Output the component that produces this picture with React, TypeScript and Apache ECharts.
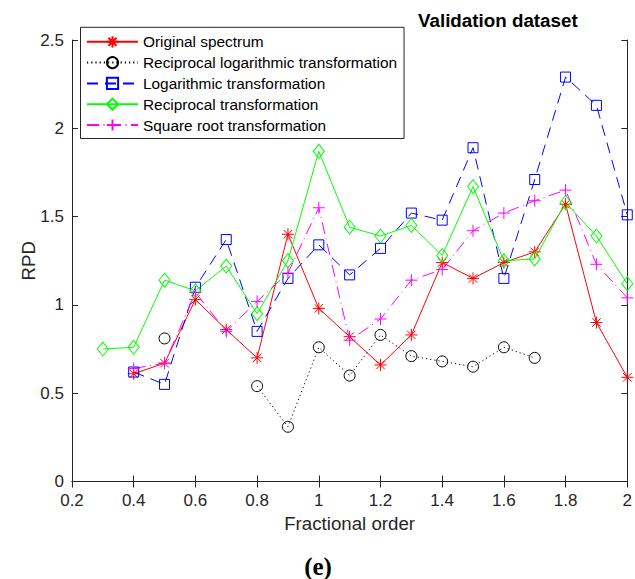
import React, { useEffect, useRef } from "react";
import * as echarts from "echarts";

// Fractional derivative orders (x positions)
const orders = [0.3, 0.4, 0.5, 0.6, 0.7, 0.8, 0.9, 1.0, 1.1, 1.2, 1.3, 1.4, 1.5, 1.6, 1.7, 1.8, 1.9, 2.0];

// RPD per pretreatment, validation dataset (null = not evaluated)
const originalSpectrum = [null, 0.61, 0.67, 1.03, 0.86, 0.70, 1.40, 0.98, 0.82, 0.66, 0.83, 1.24, 1.15, 1.24, 1.30, 1.57, 0.90, 0.59];
const reciprocalLog = [null, null, 0.81, null, null, 0.54, 0.31, 0.76, 0.60, 0.83, 0.71, 0.68, 0.65, 0.76, 0.70, null, null, null];
const logarithmic = [null, 0.62, 0.55, 1.10, 1.37, 0.85, 1.15, 1.34, 1.17, 1.32, 1.52, 1.48, 1.89, 1.15, 1.71, 2.29, 2.13, 1.51];
const reciprocal = [0.75, 0.76, 1.14, 1.08, 1.22, 0.95, 1.25, 1.87, 1.44, 1.39, 1.45, 1.28, 1.67, 1.25, 1.26, 1.58, 1.39, 1.12];
const squareRoot = [null, 0.64, 0.67, 1.07, 0.85, 1.02, 1.18, 1.55, 0.80, 0.92, 1.14, 1.20, 1.42, 1.52, 1.59, 1.65, 1.23, 1.04];

const seriesNames = [
  "Original spectrum",
  "Reciprocal logarithmic transformation",
  "Logarithmic transformation",
  "Reciprocal transformation",
  "Square root transformation",
];

const xTicks = { min: 0.2, max: 2, interval: 0.2 };
const yTicks = { min: 0, max: 2.5, interval: 0.5 };

const FONT = "'Liberation Sans', Arial, Helvetica, sans-serif";
const AXIS_COLOR = "#262626";

const STAR = "path://M0,-10L0,10M-10,0L10,0M-7.1,-7.1L7.1,7.1M-7.1,7.1L7.1,-7.1";
const PLUS = "path://M0,-10L0,10M-10,0L10,0";

function pairs(values: (number | null)[]) {
  return orders.map((x, i) => [x, values[i]]);
}

function lineSeries(
  name: string,
  values: (number | null)[],
  color: string,
  symbol: string,
  symbolSize: number | number[],
  lineType: any
) {
  return {
    name,
    type: "line",
    data: pairs(values),
    connectNulls: false,
    symbol,
    symbolSize,
    showSymbol: true,
    lineStyle: { color, width: 1, type: lineType },
    itemStyle: { color: "transparent", borderColor: color, borderWidth: 1 },
    emphasis: { disabled: true },
  };
}

export default function App() {
  const ref = useRef<HTMLDivElement>(null);

  useEffect(() => {
    if (!ref.current) return;
    const chart = echarts.init(ref.current, undefined, { renderer: "svg" });

    const axisCommon = {
      type: "value",
      axisLine: { show: true, lineStyle: { color: AXIS_COLOR, width: 1 } },
      axisTick: { show: true, inside: true, length: 6, lineStyle: { color: AXIS_COLOR } },
      splitLine: { show: false },
    };

    chart.setOption({
      animation: false,
      backgroundColor: "#ffffff",
      textStyle: { fontFamily: FONT },
      title: {
        text: "Validation dataset",
        left: 418,
        top: 11,
        padding: 0,
        textStyle: { fontFamily: FONT, fontSize: 18.8, fontWeight: "bold", color: "#000" },
      },
      grid: { left: 72, right: 3, top: 40, bottom: 97.5, containLabel: false },
      legend: {
        orient: "vertical",
        left: 80.5,
        top: 27.3,
        padding: [7, 7, 6, 5.5],
        itemWidth: 51,
        itemHeight: 14,
        itemGap: 5.8,
        backgroundColor: "#ffffff",
        borderColor: AXIS_COLOR,
        borderWidth: 1,
        borderRadius: 0,
        selectedMode: false,
        textStyle: { fontFamily: FONT, fontSize: 15.4, color: "#000", lineHeight: 15 },
        data: seriesNames,
      },
      xAxis: [
        {
          ...axisCommon,
          position: "bottom",
          ...xTicks,
          name: "Fractional order",
          nameLocation: "middle",
          nameGap: 32,
          nameTextStyle: { fontFamily: FONT, fontSize: 18.7, color: AXIS_COLOR },
          axisLabel: { show: true, fontFamily: FONT, fontSize: 17, color: AXIS_COLOR, margin: 10 },
        },
        {
          ...axisCommon,
          position: "top",
          ...xTicks,
          axisLabel: { show: false },
        },
      ],
      yAxis: [
        {
          ...axisCommon,
          position: "left",
          ...yTicks,
          name: "RPD",
          nameLocation: "middle",
          nameGap: 34,
          nameMoveOverlap: false,
          nameTextStyle: { fontFamily: FONT, fontSize: 18.7, color: AXIS_COLOR },
          axisLabel: { show: true, fontFamily: FONT, fontSize: 17, color: AXIS_COLOR, margin: 8 },
        },
        {
          ...axisCommon,
          position: "right",
          ...yTicks,
          axisLabel: { show: false },
        },
      ],
      series: [
        lineSeries(seriesNames[0], originalSpectrum, "#ff0000", STAR, 12, "solid"),
        lineSeries(seriesNames[1], reciprocalLog, "#000000", "circle", 11, [1.2, 3]),
        lineSeries(seriesNames[2], logarithmic, "#0000ff", "rect", 10, [11, 7]),
        lineSeries(seriesNames[3], reciprocal, "#00ff00", "diamond", [11, 14], "solid"),
        lineSeries(seriesNames[4], squareRoot, "#ff00ff", PLUS, 12, [12, 4.5, 1, 4.5]),
      ],
      graphic: [
        {
          type: "text",
          x: 318,
          y: 566,
          style: {
            text: "(e)",
            font: "bold 25px 'Liberation Serif', 'Times New Roman', serif",
            fill: "#000",
            align: "center",
            verticalAlign: "middle",
          },
        },
      ],
    });

    return () => chart.dispose();
  }, []);

  return (
    <div
      ref={ref}
      style={{ position: "fixed", left: 0, top: 0, width: 635, height: 579, background: "#fff" }}
    />
  );
}
